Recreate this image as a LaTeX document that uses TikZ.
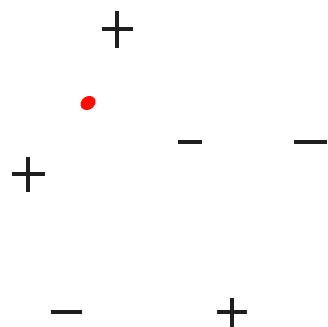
\documentclass[tikz,border=0pt]{standalone}
\begin{document}
\begin{tikzpicture}[x=1bp,y=-1bp,
  mark line/.style={line width=3.3bp,black!88,line cap=butt},
  pics/plussign/.style n args={2}{code={
    \draw[mark line] (-#1/2,0) -- (#1/2,0);
    \draw[mark line] (0,-#2/2) -- (0,#2/2);}},
  pics/minussign/.style={code={
    \draw[mark line] (-#1/2,0) -- (#1/2,0);}}]
\useasboundingbox (0,0) rectangle (328,327);
% plus signs
\pic at (117,29) {plussign={31}{37}};
\pic at (28,174) {plussign={33}{35}};
\pic at (232,312) {plussign={30}{29}};
% minus signs
\pic at (190,142) {minussign=24};
\pic at (310,142) {minussign=33};
\pic at (66,312) {minussign=31};
% red dot
\fill[red!90!orange, rotate around={35:(88,103)}] (88,103) ellipse (8 and 6.5);
\end{tikzpicture}
\end{document}
